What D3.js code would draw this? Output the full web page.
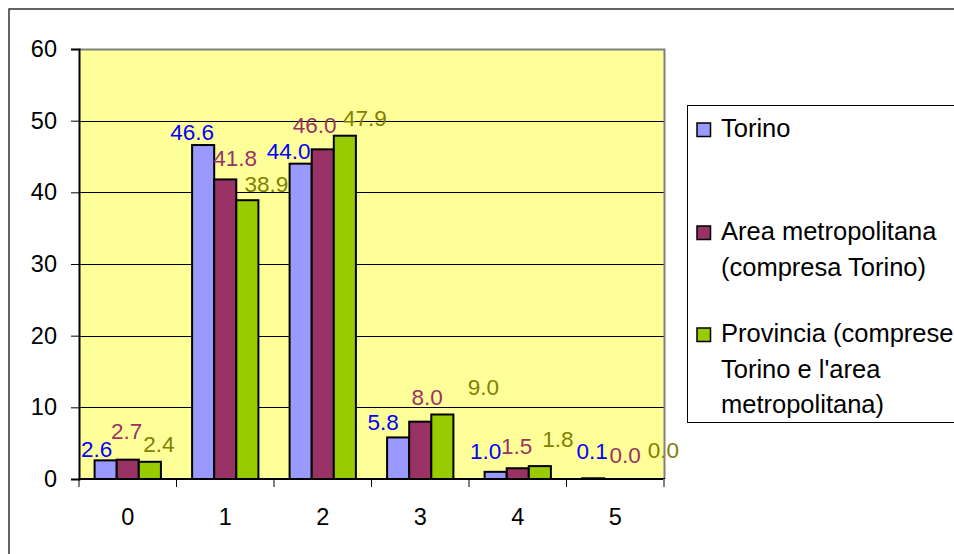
<!DOCTYPE html>
<html>
<head>
<meta charset="utf-8">
<script src="https://cdn.jsdelivr.net/npm/d3@7"></script>
<style>
  html, body { margin: 0; padding: 0; background: #fff; }
  svg { display: block; font-family: "Liberation Sans", Arial, sans-serif; }
</style>
</head>
<body>
<svg id="chart" width="954" height="554"></svg>
<script>
// Number of household members (categories) and share per area (%)
const categories = ["0", "1", "2", "3", "4", "5"];
const seriesNames = ["Torino", "Area metropolitana\n(compresa Torino)", "Provincia (comprese\nTorino e l'area\nmetropolitana)"];
const torino     = [2.6, 46.6, 44.0, 5.8, 1.0, 0.1];
const areaMetro  = [2.7, 41.8, 46.0, 8.0, 1.5, 0.0];
const provincia  = [2.4, 38.9, 47.9, 9.0, 1.8, 0.0];
const yTicks     = [0, 10, 20, 30, 40, 50, 60];

const seriesValues = [torino, areaMetro, provincia];
const barColors   = ["#9999FF", "#993366", "#99CC00"];
const labelColors = ["#0000FF", "#993366", "#808000"];

// Hand-placed label offsets per category and series: [dx from bar centre, gap above bar top]
const labelNudge = [
  [[-9, 3],  [-1, 21], [9, 10]],
  [[-11, 5], [10, 13], [19, 8]],
  [[-12, 5], [-8, 16], [20, 10]],
  [[-15, 7], [7, 17],  [41, 20]],
  [[-10, 13],[-1, 14], [18, 19]],
  [[-1, 19], [10, 16], [26, 21]]
];

const svg = d3.select("#chart");
const plot = { left: 79, right: 664, top: 49, bottom: 479 };

// Outer chart frame (only its left and top edges fall inside the view)
svg.append("path")
  .attr("d", "M9,560 V9 H960")
  .attr("fill", "none").attr("stroke", "#333").attr("stroke-width", 1.5);

const x0 = d3.scaleBand().domain(categories).range([plot.left, plot.right]).padding(0);
const x1 = d3.scaleBand().domain(d3.range(3))
  .range([x0.bandwidth() * 0.16, x0.bandwidth() * 0.84]).padding(0);
const y = d3.scaleLinear().domain([0, 60]).range([plot.bottom, plot.top]);

// Plot background
svg.append("rect")
  .attr("x", plot.left).attr("y", plot.top)
  .attr("width", plot.right - plot.left).attr("height", plot.bottom - plot.top)
  .attr("fill", "#FFFF99");

// Gridlines
svg.append("g").selectAll("line")
  .data(yTicks.filter(d => d > 0 && d < 60))
  .join("line")
  .attr("x1", plot.left).attr("x2", plot.right)
  .attr("y1", d => Math.round(y(d)) + 0.5).attr("y2", d => Math.round(y(d)) + 0.5)
  .attr("stroke", "#000").attr("stroke-width", 1);

// Plot border top and right (grey)
svg.append("path")
  .attr("d", `M${plot.left},${plot.top + 0.5} H${plot.right + 0.5} V${plot.bottom}`)
  .attr("fill", "none").attr("stroke", "#808080").attr("stroke-width", 2);

// Bars
const groups = svg.append("g").selectAll("g")
  .data(categories)
  .join("g")
  .attr("transform", d => `translate(${x0(d)},0)`);

groups.selectAll("rect")
  .data((c, i) => seriesValues.map((vals, s) => ({ s, v: vals[i] })).filter(d => d.v > 0))
  .join("rect")
  .attr("x", d => x1(d.s))
  .attr("y", d => y(d.v))
  .attr("width", x1.bandwidth())
  .attr("height", d => y(0) - y(d.v))
  .attr("fill", d => barColors[d.s])
  .attr("stroke", "#000").attr("stroke-width", 2);

// Y axis
const yAxis = d3.axisLeft(y).tickValues(yTicks).tickSize(8).tickPadding(14)
  .tickFormat(d3.format("d"));
const gy = svg.append("g").attr("transform", `translate(${plot.left},0)`).call(yAxis);
gy.select(".domain").attr("stroke", "#000").attr("stroke-width", 2);
gy.selectAll(".tick line").attr("stroke", "#000");
gy.selectAll(".tick text").attr("font-size", 23.5).attr("fill", "#000")
  .attr("font-family", "Liberation Sans, Arial, sans-serif");

// X axis with ticks at category boundaries
const xBoundaries = d3.scaleLinear().domain([0, categories.length]).range([plot.left, plot.right]);
const gx = svg.append("g").attr("transform", `translate(0,${plot.bottom})`);
gx.append("line")
  .attr("x1", plot.left).attr("x2", plot.right + 1)
  .attr("stroke", "#000").attr("stroke-width", 2);
gx.selectAll("line.tk")
  .data(d3.range(categories.length + 1))
  .join("line").attr("class", "tk")
  .attr("x1", d => xBoundaries(d)).attr("x2", d => xBoundaries(d))
  .attr("y1", 0).attr("y2", 8)
  .attr("stroke", d => d === categories.length ? "#808080" : "#000")
  .attr("stroke-width", d => d === categories.length ? 2 : 1);
gx.selectAll("text")
  .data(categories)
  .join("text")
  .attr("x", d => x0(d) + x0.bandwidth() / 2)
  .attr("y", 46)
  .attr("text-anchor", "middle")
  .attr("font-size", 23.5)
  .text(d => d);

// Value labels
groups.selectAll("text")
  .data((c, i) => seriesValues.map((vals, s) => ({ s, v: vals[i], n: labelNudge[i][s] })))
  .join("text")
  .attr("x", d => x1(d.s) + x1.bandwidth() / 2 + d.n[0])
  .attr("y", d => y(d.v) - d.n[1])
  .attr("text-anchor", "middle")
  .attr("font-size", 22.5)
  .attr("fill", d => labelColors[d.s])
  .text(d => d3.format(".1f")(d.v));

// Legend
const legend = svg.append("g");
legend.append("rect")
  .attr("x", 687.5).attr("y", 105.5).attr("width", 300).attr("height", 317)
  .attr("fill", "#fff").attr("stroke", "#000").attr("stroke-width", 1);

const entryBaseline = [137, 240, 342];
const lineStep = 35.5;
seriesNames.forEach((name, s) => {
  legend.append("rect")
    .attr("x", 697).attr("y", entryBaseline[s] - 14)
    .attr("width", 13.5).attr("height", 13.5)
    .attr("fill", barColors[s]).attr("stroke", "#000").attr("stroke-width", 1.5);
  const t = legend.append("text")
    .attr("x", 721).attr("y", entryBaseline[s])
    .attr("font-size", 25.5).attr("fill", "#000");
  name.split("\n").forEach((line, k) => {
    t.append("tspan").attr("x", 721).attr("y", entryBaseline[s] + k * lineStep).text(line);
  });
});
</script>
</body>
</html>
